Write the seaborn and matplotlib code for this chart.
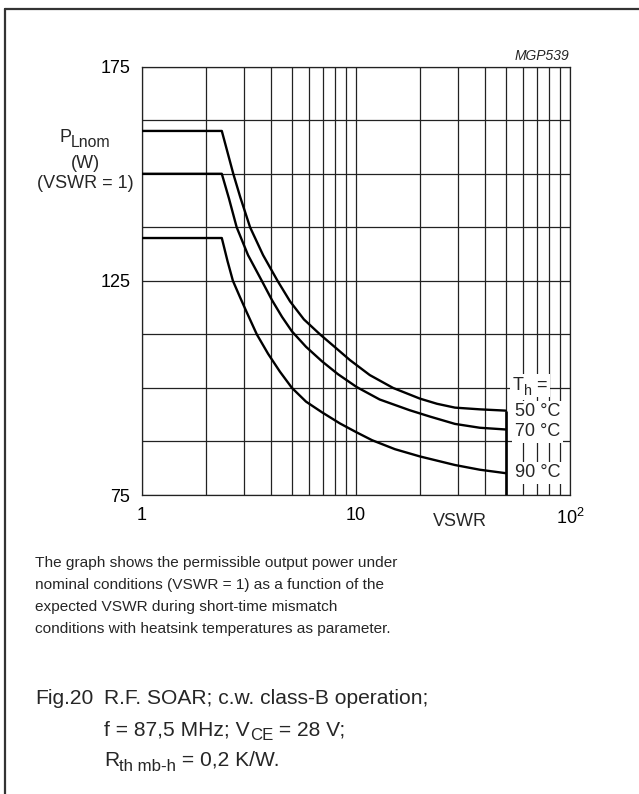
import matplotlib
matplotlib.use('Agg')
import pandas as pd
import matplotlib.pyplot as plt
from matplotlib.lines import Line2D
from matplotlib.transforms import IdentityTransform
from matplotlib.ticker import FixedLocator, NullFormatter, LogLocator
import seaborn as sns

# P_Lnom (W), per heatsink temperature
vswr_50 = [1, 2.36, 2.67, 2.88, 3.20, 3.68, 4.30, 4.92, 5.71, 6.79, 7.98, 9.37,
           11.6, 14.9, 19.9, 23.9, 29.0, 37.9, 50]
p_50 = [160, 160, 150, 144.5, 137.5, 131, 125, 120.2, 116, 112.5, 109.5, 106.5,
        103, 100, 97.5, 96.3, 95.4, 95.0, 94.7]

vswr_70 = [1, 2.36, 2.55, 2.77, 3.13, 3.63, 4.05, 4.51, 5.02, 5.84, 6.94, 8.24,
           10.08, 12.9, 17.8, 22.2, 29.0, 37.9, 50]
p_70 = [150, 150, 144.2, 137.5, 131, 125, 120.5, 116.6, 113.2, 109.6, 106.2, 103.2,
        100.2, 97.3, 94.8, 93.3, 91.6, 90.7, 90.3]

vswr_90 = [1, 2.36, 2.51, 2.66, 2.87, 3.09, 3.44, 3.88, 4.41, 5.02, 5.84, 6.94,
           8.42, 10.0, 11.88, 15.2, 19.9, 29.0, 37.9, 50]
p_90 = [135, 135, 129.6, 125, 121.2, 117.6, 112.5, 108.0, 103.8, 100.0, 96.8, 94.3,
        91.7, 89.7, 87.8, 85.7, 84.0, 82.0, 80.9, 80.1]

temps = ['50 °C', '70 °C', '90 °C']
vswr_limit = 50

y_ticks = [75, 125, 175]
y_grid = [75, 87.5, 100, 112.5, 125, 137.5, 150, 162.5, 175]
x_ticks = [1, 10, 100]
x_ticklabels = ['1', '10', '10$^2$']

df = pd.concat([
    pd.DataFrame({'VSWR': vswr_50, 'P': p_50, 'Th': temps[0]}),
    pd.DataFrame({'VSWR': vswr_70, 'P': p_70, 'Th': temps[1]}),
    pd.DataFrame({'VSWR': vswr_90, 'P': p_90, 'Th': temps[2]}),
])

sns.set_theme(style='white')
plt.rcParams['font.family'] = ['Liberation Sans', 'DejaVu Sans']
plt.rcParams['mathtext.fontset'] = 'custom'
plt.rcParams['mathtext.rm'] = 'Liberation Sans'

W, H = 639, 794
fig = plt.figure(figsize=(W / 100, H / 100), dpi=100)
ax = fig.add_axes([142 / W, 1 - 495 / H, 428 / W, 428.3 / H])

sns.lineplot(data=df, x='VSWR', y='P', hue='Th', palette=['black'] * 3,
             linewidth=1.7, legend=False, ax=ax, zorder=3)
ax.vlines(vswr_limit, y_ticks[0], p_50[-1], color='black', lw=1.9, zorder=3)

ax.set_xscale('log')
ax.set_xlim(x_ticks[0], x_ticks[-1])
ax.set_ylim(y_ticks[0], y_ticks[-1])
ax.xaxis.set_major_locator(FixedLocator(x_ticks))
ax.set_xticklabels(x_ticklabels)
ax.xaxis.set_minor_locator(LogLocator(base=10, subs=range(2, 10)))
ax.xaxis.set_minor_formatter(NullFormatter())
ax.set_yticks(y_ticks)
ax.yaxis.set_minor_locator(FixedLocator(y_grid))
ax.tick_params(which='both', length=0, labelsize=13, colors='black')
ax.tick_params(axis='y', pad=8.5)
ax.tick_params(axis='x', pad=9)
ax.grid(True, which='both', color='#222222', lw=0.9)
ax.set_xlabel('')
ax.set_ylabel('')
for s in ax.spines.values():
    s.set_color('#222222')
    s.set_linewidth(0.9)

ax.text(0.743, -0.063, 'VSWR', transform=ax.transAxes, ha='center', va='center', fontsize=13)

renderer = fig.canvas.get_renderer()


def text_width(s, size, **kw):
    a = fig.text(0, 0, '|' + s + '|', fontsize=size, **kw)
    b = fig.text(0, 0, '||', fontsize=size, **kw)
    w = a.get_window_extent(renderer).width - b.get_window_extent(renderer).width
    a.remove()
    b.remove()
    return w


def sub_text(x, y, parts, size, ha='left', sub_scale=0.8, drop=0.25, **kw):
    # x, y: pixels from top-left, y is the baseline; parts = [(text, is_sub), ...]
    sizes = [size * sub_scale if sub else size for _, sub in parts]
    widths = [text_width(s, fs, **kw) for (s, _), fs in zip(parts, sizes)]
    cx = x - sum(widths) / 2 if ha == 'center' else x
    out = []
    for (s, sub), fs, w in zip(parts, sizes, widths):
        yy = H - y - (drop * size * 100 / 72 if sub else 0)
        t = fig.text(cx, yy, s, fontsize=fs, va='baseline', ha='left',
                     transform=IdentityTransform(), **kw)
        out.append(t)
        cx += w
    return out


box = dict(facecolor='white', edgecolor='none', pad=2.0)
th = sub_text(512.7, 390, [('T', False), ('h', True), (' =', False)], 13)
for t in th:
    t.set_bbox(box)
    t.set_zorder(5)
th[1].set_zorder(6)
for t, yy in zip(temps, [0.194, 0.148, 0.052]):
    ax.text(0.8715, yy, t, transform=ax.transAxes, ha='left', va='center',
            fontsize=13, bbox=box, zorder=4)

sub_text(85, 142, [('P', False), ('Lnom', True)], 13, ha='center', sub_scale=0.88, drop=0.25)
fig.text(85 / W, 1 - 163 / H, '(W)', ha='center', va='center', fontsize=13)
fig.text(85 / W, 1 - 184 / H, '(VSWR = 1)', ha='center', va='center', fontsize=13)
fig.text(569 / W, 1 - 60 / H, 'MGP539', ha='right', va='baseline', fontsize=10, style='italic')

para = ['The graph shows the permissible output power under',
        'nominal conditions (VSWR = 1) as a function of the',
        'expected VSWR during short-time mismatch',
        'conditions with heatsink temperatures as parameter.']
for i, line in enumerate(para):
    fig.text(35 / W, 1 - (563.5 + 21.7 * i) / H, line, ha='left', va='center', fontsize=11.1)

cap = 15.1
fig.text(35 / W, 1 - 704.3 / H, 'Fig.20', ha='left', va='baseline', fontsize=cap)
fig.text(104.3 / W, 1 - 704.3 / H, 'R.F. SOAR; c.w. class-B operation;', ha='left',
         va='baseline', fontsize=cap)
sub_text(104.3, 735, [('f = 87,5 MHz; V', False), ('CE', True), (' = 28 V;', False)], cap)
sub_text(104.3, 766, [('R', False), ('th mb-h', True), (' = 0,2 K/W.', False)], cap)

# page frame, open to the right and bottom
fig.add_artist(Line2D([5 / W, 5 / W], [0, 1 - 8.5 / H], color='#333333', lw=1.6,
                      transform=fig.transFigure))
fig.add_artist(Line2D([5 / W, 1], [1 - 8.5 / H, 1 - 8.5 / H], color='#333333', lw=1.6,
                      transform=fig.transFigure))

fig.savefig('out.png', dpi=100, facecolor='white')
